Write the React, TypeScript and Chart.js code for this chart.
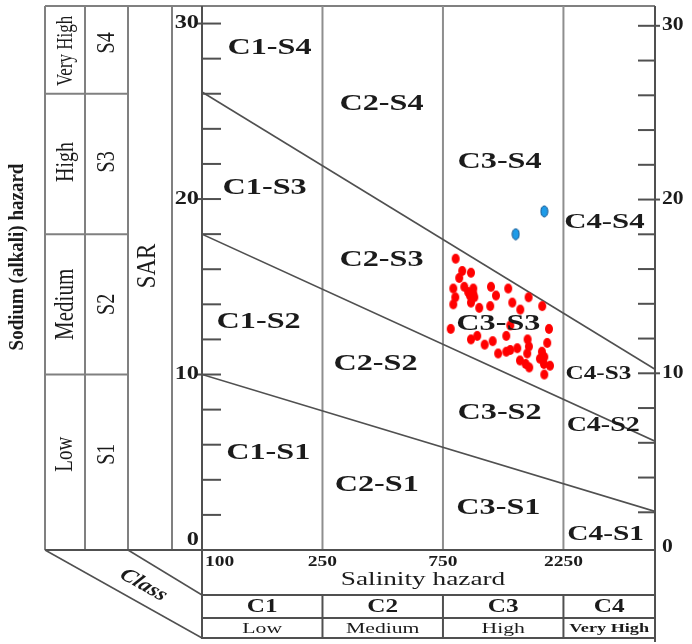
import React, { useEffect, useRef } from "react";
import { Chart, registerables } from "chart.js";

Chart.register(...registerables);

// ---------- data ----------
// Salinity (EC, µS/cm) class breaks used on the horizontal axis
const EC_BREAKS = [100, 250, 750, 2250, 5000];
const SALINITY_TICKS = [100, 250, 750, 2250];
const SAR_LABEL_TICKS = [0, 10, 20, 30];
const SALINITY_CLASSES = ["C1", "C2", "C3", "C4"];
const SALINITY_LEVELS = ["Low", "Medium", "High", "Very High"];
const SODIUM_CLASSES = ["S1", "S2", "S3", "S4"];
const SODIUM_LEVELS = ["Low", "Medium", "High", "Very High"];
// Sodium hazard boundary lines: SAR at the low-EC end and at the high-EC end
const BOUNDARY_SAR_START = [10, 18, 26.1];
const BOUNDARY_SAR_END = [2.2, 6.2, 10.3];
const ZONE_NAMES = [
  "C1-S4", "C2-S4", "C3-S4", "C4-S4",
  "C1-S3", "C2-S3", "C3-S3", "C4-S3",
  "C1-S2", "C2-S2", "C3-S2", "C4-S2",
  "C1-S1", "C2-S1", "C3-S1", "C4-S1",
];

// samples (red)
const sampleEC = [842, 894, 870, 968, 911, 824, 989, 1162, 1360, 839, 959, 998, 1216, 1638, 824, 968, 1411, 1044, 1154, 1518, 1854, 805, 1386, 1972, 968, 1025, 1336, 1623, 1097, 1180, 1941, 1477, 1386, 1336, 1241, 1642, 1617, 1849, 1816, 1514, 1594, 1647, 1883, 1990, 1889, 1889, 944, 989];
const sampleSAR = [16.6, 15.9, 15.5, 15.8, 15.0, 14.9, 14.9, 15.0, 14.9, 14.4, 14.5, 14.4, 14.5, 14.4, 14.0, 14.1, 14.1, 13.8, 13.9, 13.7, 13.9, 12.6, 12.8, 12.6, 12.0, 12.2, 12.2, 12.0, 11.7, 11.9, 11.8, 11.5, 11.4, 11.3, 11.2, 11.6, 11.2, 11.3, 10.9, 10.8, 10.6, 10.4, 10.6, 10.5, 10.0, 11.0, 14.7, 14.6];
// samples (blue)
const otherEC = [1889, 1456];
const otherSAR = [19.3, 18.0];

// ---------- helpers ----------
const X_MAX = 3.76;
const Y_MAX = 31;

function ecToPos(ec: number): number {
  for (let i = 0; i < EC_BREAKS.length - 1; i++) {
    if (ec <= EC_BREAKS[i + 1] || i === EC_BREAKS.length - 2) {
      return i + Math.log(ec / EC_BREAKS[i]) / Math.log(EC_BREAKS[i + 1] / EC_BREAKS[i]);
    }
  }
  return 0;
}

const FONT = '"Liberation Serif", "Times New Roman", serif';
const INK = "#1b1b1b";

function makeEllipse(w: number, h: number, fill: string, stroke?: string) {
  const c = document.createElement("canvas");
  c.width = w + 2;
  c.height = h + 2;
  const g = c.getContext("2d")!;
  g.beginPath();
  g.ellipse((w + 2) / 2, (h + 2) / 2, w / 2, h / 2, 0, 0, Math.PI * 2);
  g.fillStyle = fill;
  g.fill();
  if (stroke) {
    g.strokeStyle = stroke;
    g.lineWidth = 1;
    g.stroke();
  }
  return c;
}

type TextOpts = {
  size: number;
  weight?: string;
  style?: string;
  align?: CanvasTextAlign;
  baseline?: CanvasTextBaseline;
  angle?: number;
  sx?: number;
  color?: string;
};

function drawText(ctx: CanvasRenderingContext2D, s: string, x: number, y: number, o: TextOpts) {
  const sx = o.sx ?? 1.4;
  ctx.save();
  ctx.translate(x, y);
  ctx.scale(sx, 1);
  if (o.angle) ctx.rotate(Math.atan2(Math.sin(o.angle), Math.cos(o.angle) / sx));
  ctx.font = `${o.style ?? "normal"} ${o.weight ?? "normal"} ${o.size}px ${FONT}`;
  ctx.textAlign = o.align ?? "center";
  ctx.textBaseline = o.baseline ?? "middle";
  ctx.fillStyle = o.color ?? INK;
  ctx.fillText(s, 0, 0);
  ctx.restore();
}

function seg(ctx: CanvasRenderingContext2D, x1: number, y1: number, x2: number, y2: number, color: string, w: number) {
  ctx.beginPath();
  ctx.moveTo(x1, y1);
  ctx.lineTo(x2, y2);
  ctx.strokeStyle = color;
  ctx.lineWidth = w;
  ctx.stroke();
}

// zone label anchors in (class position, SAR) space and font sizes
const ZONE_ANCHORS: [number, number, number][] = [
  [0.56, 28.6, 23], [1.49, 25.4, 23], [2.47, 22.1, 23], [3.34, 18.7, 22],
  [0.52, 20.6, 23], [1.49, 16.5, 23], [2.46, 12.9, 23], [3.29, 10.0, 18],
  [0.47, 13.0, 23], [1.44, 10.6, 23], [2.47, 7.8, 23], [3.33, 7.1, 20],
  [0.55, 5.5, 23], [1.45, 3.7, 23], [2.46, 2.4, 23], [3.35, 0.9, 21],
];

const decor = {
  id: "usslDecor",
  beforeDatasetsDraw(chart: any) {
    const { ctx, chartArea: a, scales } = chart;
    const xs = scales.x, ys = scales.y, yr = scales.yR;
    const L = a.left, R = a.right, T = a.top, B = a.bottom;
    const p0 = L - 157, p1 = L - 117, p2 = L - 74, p3 = L - 30;
    const r1 = B + 45, r2 = B + 68, r3 = B + 88;
    const grey = "#808080";
    const dark = "#505050";
    ctx.save();
    seg(ctx, p0, T, R, T, grey, 2);
    [p0, p1, p2, p3].forEach((px) => seg(ctx, px, T, px, B, grey, 2));
    BOUNDARY_SAR_START.forEach((v) => {
      const py = ys.getPixelForValue(Math.round(v));
      seg(ctx, p0, py, p2, py, grey, 2);
    });
    [1, 2, 3].forEach((i) => {
      const px = xs.getPixelForValue(i);
      seg(ctx, px, T, px, B, "#8e8e8e", 2);
    });
    seg(ctx, L, T, L, r3 + 1, dark, 2);
    seg(ctx, R, T, R, r3 + 4, dark, 2);
    seg(ctx, p0, B, R, B, dark, 2);
    [r1, r2, r3].forEach((ry) => seg(ctx, L, ry, R, ry, dark, 2));
    [1, 2, 3].forEach((i) => {
      const px = xs.getPixelForValue(i);
      seg(ctx, px, r1, px, r3, dark, 2);
    });
    seg(ctx, p0, B, L, r3, dark, 1.5);
    seg(ctx, p2, B, L, r1, dark, 1.5);
    for (let v = 2; v <= 30; v += 2) {
      const py = ys.getPixelForValue(v);
      seg(ctx, v % 10 === 0 ? L - 5 : L, py, L + 19, py, dark, 2);
    }
    for (let v = 2; v <= 30; v += 2) {
      const py = yr.getPixelForValue(v);
      seg(ctx, R - 17, py, v % 10 === 0 ? R + 5 : R, py, dark, 2);
    }
    ctx.restore();
  },
  afterDatasetsDraw(chart: any) {
    const { ctx, chartArea: a, scales } = chart;
    const xs = scales.x, ys = scales.y, yr = scales.yR;
    const L = a.left, R = a.right, B = a.bottom;
    const p0 = L - 157, p1 = L - 117, p2 = L - 74, p3 = L - 30;
    const r1 = B + 45, r2 = B + 68, r3 = B + 88;

    ZONE_NAMES.forEach((name, i) => {
      const [px, sv, size] = ZONE_ANCHORS[i];
      drawText(ctx, name, xs.getPixelForValue(px), ys.getPixelForValue(sv), { size, weight: "bold", sx: 1.4 });
    });

    SAR_LABEL_TICKS.forEach((v) => {
      if (v === 0) {
        drawText(ctx, "0", L - 3, B - 1, { size: 18, weight: "bold", align: "right", baseline: "bottom", sx: 1.35 });
      } else {
        drawText(ctx, String(v), L - 3, ys.getPixelForValue(v), { size: 18, weight: "bold", align: "right", sx: 1.35 });
      }
    });
    SAR_LABEL_TICKS.forEach((v) => {
      drawText(ctx, String(v), R + 7, yr.getPixelForValue(v), { size: 18, weight: "bold", align: "left", sx: 1.2 });
    });
    SALINITY_TICKS.forEach((ec, i) => {
      const px = xs.getPixelForValue(ecToPos(ec));
      drawText(ctx, String(ec), i === 0 ? px + 3 : px, B + 12, {
        size: 15, weight: "bold", align: i === 0 ? "left" : "center", sx: 1.3,
      });
    });
    drawText(ctx, "Salinity hazard", L + 221, B + 30, { size: 19.5, sx: 1.4 });
    const edges = [L, xs.getPixelForValue(1), xs.getPixelForValue(2), xs.getPixelForValue(3), R];
    SALINITY_CLASSES.forEach((c, i) => {
      const cx = (edges[i] + edges[i + 1]) / 2;
      drawText(ctx, c, cx, (r1 + r2) / 2 + 1, { size: 18, weight: "bold", sx: 1.4 });
      const lvl = SALINITY_LEVELS[i];
      if (i === 3) drawText(ctx, lvl, cx, (r2 + r3) / 2 + 1, { size: 13, weight: "bold", sx: 1.4 });
      else drawText(ctx, lvl, cx, (r2 + r3) / 2 + 1, { size: 15.5, sx: 1.4 });
    });

    const bounds = [0, 10, 18, 26, Y_MAX];
    const lvlSizes = [19, 21, 20, 17];
    const offs = [-8, 0, -2, 1];
    const sOffs = [-8, 0, -2, -7];
    const up = -Math.PI / 2;
    SODIUM_LEVELS.forEach((lvl, i) => {
      const cy = (ys.getPixelForValue(bounds[i]) + ys.getPixelForValue(bounds[i + 1])) / 2;
      drawText(ctx, lvl, (p0 + p1) / 2 + 1, cy + offs[i], { size: lvlSizes[i], angle: up, sx: 1.3 });
      drawText(ctx, SODIUM_CLASSES[i], (p1 + p2) / 2 + 1, cy + sOffs[i], { size: 20, angle: up, sx: 1.3 });
    });
    drawText(ctx, "SAR", (p2 + p3) / 2 - 2, 266, { size: 23, angle: up, sx: 1.2 });
    drawText(ctx, "Sodium (alkali) hazard", 18, 257, { size: 19, weight: "bold", angle: up, sx: 1.05 });
    drawText(ctx, "Class", 143.5, 585, {
      size: 19, weight: "bold", style: "italic", angle: Math.atan2(r3 - B, L - p0), sx: 1.25,
    });
  },
};

export default function App() {
  const ref = useRef<HTMLCanvasElement | null>(null);
  useEffect(() => {
    if (!ref.current) return;
    const redDot = makeEllipse(8, 10, "#ff0000");
    const blueDot = makeEllipse(7, 11, "#1e9be8", "#0d4f8a");
    const chart = new Chart(ref.current, {
      type: "scatter",
      data: {
        datasets: [
          {
            label: "Samples",
            data: sampleEC.map((ec, i) => ({ x: ecToPos(ec), y: sampleSAR[i] })),
            pointStyle: redDot as any,
            pointRadius: 5,
            backgroundColor: "#ff0000",
            borderColor: "#ff0000",
          },
          {
            label: "Other samples",
            data: otherEC.map((ec, i) => ({ x: ecToPos(ec), y: otherSAR[i] })),
            pointStyle: blueDot as any,
            pointRadius: 5,
            backgroundColor: "#1e9be8",
            borderColor: "#0d4f8a",
          },
          ...BOUNDARY_SAR_START.map((s, i) => ({
            label: `S boundary ${i + 1}`,
            data: [
              { x: 0, y: s },
              { x: X_MAX, y: BOUNDARY_SAR_END[i] },
            ],
            showLine: true,
            pointRadius: 0,
            borderColor: "#505050",
            borderWidth: 1.6,
            fill: false,
          })),
        ],
      },
      options: {
        animation: false,
        responsive: false,
        devicePixelRatio: 1,
        events: [],
        layout: { padding: { left: 202, right: 37, top: 5, bottom: 94 } },
        scales: {
          x: { type: "linear", min: 0, max: X_MAX, display: false },
          y: { type: "linear", min: 0, max: Y_MAX, display: false },
          yR: { type: "linear", position: "right", min: -0.17, max: 31.14, display: false },
        },
        plugins: {
          legend: { display: false },
          tooltip: { enabled: false },
        },
      },
      plugins: [decor as any],
    });
    return () => chart.destroy();
  }, []);
  return (
    <div style={{ position: "fixed", left: 0, top: 0, width: 692, height: 644, background: "#fff" }}>
      <canvas ref={ref} width={692} height={644} style={{ width: 692, height: 644, display: "block" }} />
    </div>
  );
}
